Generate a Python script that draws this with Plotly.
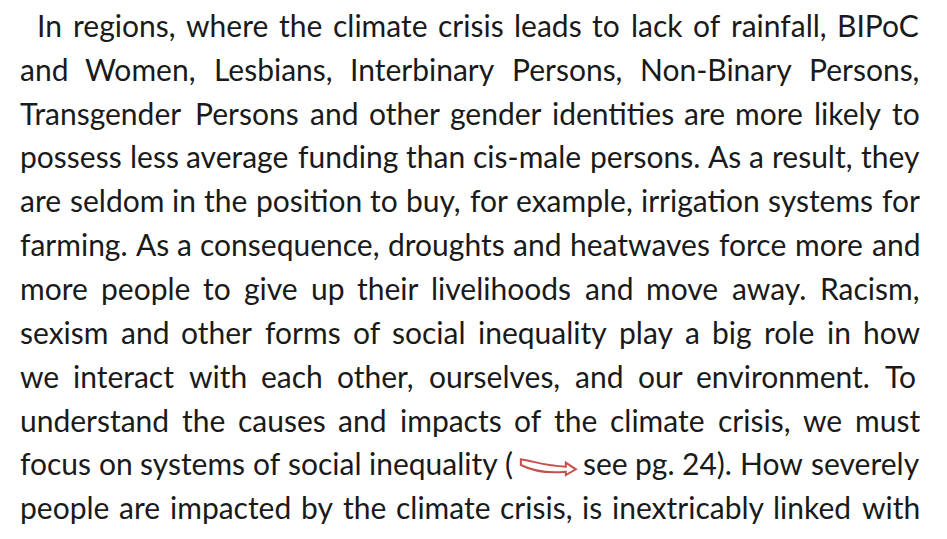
import os
import struct
import plotly.graph_objects as go

# ---------------- content ----------------
ARROW = "[->]"  # placeholder token for the red cross-reference arrow
LINES = [
    "In regions, where the climate crisis leads to lack of rainfall, BIPoC",
    "and Women, Lesbians, Interbinary Persons, Non-Binary Persons,",
    "Transgender Persons and other gender identities are more likely to",
    "possess less average funding than cis-male persons. As a result, they",
    "are seldom in the position to buy, for example, irrigation systems for",
    "farming. As a consequence, droughts and heatwaves force more and",
    "more people to give up their livelihoods and move away. Racism,",
    "sexism and other forms of social inequality play a big role in how",
    "we interact with each other, ourselves, and our environment. To",
    "understand the causes and impacts of the climate crisis, we must",
    "focus on systems of social inequality ( " + ARROW + " see pg. 24). How severely",
    "people are impacted by the climate crisis, is inextricably linked with",
]

# ---------------- style ----------------
W, H = 947, 539
LEFT = 12
FIRST_INDENT = 29
RIGHT = 912
BASELINE0 = 28.5
LINE_STEP = 43.85
FONT_TARGET = 30
TEXT_COLOR = "#1a1a1a"
ARROW_COLOR = "#c4524c"
ARROW_EM = 55.0 / 30.0

FONT_CHOICES = [
    ("Lato", ["lato-regular.ttf"]),
    ("Noto Sans", ["notosans-regular.ttf"]),
    ("Roboto", ["roboto-regular.ttf"]),
    ("Open Sans", ["opensans-regular.ttf"]),
    ("DejaVu Sans", ["dejavusans.ttf"]),
    ("Liberation Sans", ["liberationsans-regular.ttf"]),
]


def list_font_files():
    dirs = ["/usr/share/fonts", "/usr/local/share/fonts",
            os.path.expanduser("~/.fonts"), os.path.expanduser("~/.local/share/fonts")]
    out = {}
    for d in dirs:
        if not os.path.isdir(d):
            continue
        for root, _, files in os.walk(d):
            for f in files:
                out.setdefault(f.lower(), os.path.join(root, f))
    return out


def parse_ttf(path):
    d = open(path, "rb").read()
    off = 0
    if d[:4] == b"ttcf":
        off = struct.unpack(">I", d[12:16])[0]
    n = struct.unpack(">H", d[off + 4:off + 6])[0]
    tabs = {}
    for i in range(n):
        r = off + 12 + 16 * i
        tag = d[r:r + 4].decode("latin1")
        o, l = struct.unpack(">II", d[r + 8:r + 16])
        tabs[tag] = o
    upm = struct.unpack(">H", d[tabs["head"] + 18:tabs["head"] + 20])[0]
    hh = tabs["hhea"]
    asc, desc = struct.unpack(">hh", d[hh + 4:hh + 8])
    nhm = struct.unpack(">H", d[hh + 34:hh + 36])[0]
    if "OS/2" in tabs:
        o2 = tabs["OS/2"]
        fssel = struct.unpack(">H", d[o2 + 62:o2 + 64])[0]
        if fssel & (1 << 7):
            asc, desc = struct.unpack(">hh", d[o2 + 68:o2 + 72])
    hm = tabs["hmtx"]
    adv = [struct.unpack(">H", d[hm + 4 * i:hm + 4 * i + 2])[0] for i in range(nhm)]
    co = tabs["cmap"]
    nsub = struct.unpack(">H", d[co + 2:co + 4])[0]
    subs = {}
    for i in range(nsub):
        pid, eid, so = struct.unpack(">HHI", d[co + 4 + 8 * i:co + 12 + 8 * i])
        fmt = struct.unpack(">H", d[co + so:co + so + 2])[0]
        subs[(pid, eid, fmt)] = co + so
    cmap = {}
    s12 = subs.get((3, 10, 12)) or subs.get((0, 4, 12))
    s4 = subs.get((3, 1, 4)) or subs.get((0, 3, 4)) or subs.get((0, 1, 4))
    if s12:
        ng = struct.unpack(">I", d[s12 + 12:s12 + 16])[0]
        for g in range(ng):
            a, b, gid = struct.unpack(">III", d[s12 + 16 + 12 * g:s12 + 28 + 12 * g])
            if a > 0x2FFF:
                continue
            for c in range(a, min(b, 0x2FFF) + 1):
                cmap[c] = gid + (c - a)
    elif s4:
        segx2 = struct.unpack(">H", d[s4 + 6:s4 + 8])[0]
        seg = segx2 // 2
        ends_o = s4 + 14
        starts_o = ends_o + segx2 + 2
        delta_o = starts_o + segx2
        ro_o = delta_o + segx2
        for i in range(seg):
            e = struct.unpack(">H", d[ends_o + 2 * i:ends_o + 2 * i + 2])[0]
            s = struct.unpack(">H", d[starts_o + 2 * i:starts_o + 2 * i + 2])[0]
            dl = struct.unpack(">h", d[delta_o + 2 * i:delta_o + 2 * i + 2])[0]
            ro = struct.unpack(">H", d[ro_o + 2 * i:ro_o + 2 * i + 2])[0]
            for c in range(s, min(e, 0x2FFF) + 1):
                if c == 0xFFFF:
                    continue
                if ro == 0:
                    gid = (c + dl) & 0xFFFF
                else:
                    addr = ro_o + 2 * i + ro + 2 * (c - s)
                    gid = struct.unpack(">H", d[addr:addr + 2])[0]
                    if gid:
                        gid = (gid + dl) & 0xFFFF
                cmap[c] = gid
    return dict(upm=upm, asc=asc, desc=abs(desc), adv=adv, cmap=cmap)


FAMILY = "Lato"
METRICS = None
files = list_font_files()
for fam, names in FONT_CHOICES:
    hit = next((files[n] for n in names if n in files), None)
    if hit:
        try:
            METRICS = parse_ttf(hit)
            FAMILY = fam
            break
        except Exception:
            METRICS = None


def text_em(s):
    if METRICS is None:
        return 0.5 * len(s)
    adv, cm, upm = METRICS["adv"], METRICS["cmap"], METRICS["upm"]
    tot = 0
    for ch in s:
        g = cm.get(ord(ch), 0)
        tot += adv[min(g, len(adv) - 1)]
    return tot / upm


def token_em(t):
    return ARROW_EM if t == ARROW else text_em(t)


# choose a font size so every line fits with at least a small gap
MIN_GAP_EM = 0.16
fs = FONT_TARGET
for i, line in enumerate(LINES):
    toks = line.split(" ")
    left = FIRST_INDENT if i == 0 else LEFT
    need = sum(token_em(t) for t in toks) + MIN_GAP_EM * (len(toks) - 1)
    fs = min(fs, (RIGHT - left) / need)

if METRICS:
    box_mid = (METRICS["asc"] - METRICS["desc"]) / 2.0 / METRICS["upm"] * fs
else:
    box_mid = 0.38 * fs

fig = go.Figure()
annotations = []
shapes = []
for i, line in enumerate(LINES):
    toks = line.split(" ")
    left = FIRST_INDENT if i == 0 else LEFT
    widths = [token_em(t) * fs for t in toks]
    gap = (RIGHT - left - sum(widths)) / max(1, len(toks) - 1)
    base = BASELINE0 + i * LINE_STEP
    x = left
    for t, w in zip(toks, widths):
        if t == ARROW:
            k = fs / 30.0
            def P(dx, dy):
                return f"{x + dx * k:.2f},{base + dy * k:.2f}"
            path = (f"M {P(0, -15.7)} C {P(12, -14)} {P(25, -9)} {P(45, -8.3)} "
                    f"L {P(45, -12.3)} L {P(55, -5.7)} L {P(45, 0)} L {P(45, -3.3)} "
                    f"C {P(28, -1.5)} {P(12, -4)} {P(0, -10)} Z")
            shapes.append(dict(type="path", path=path, xref="x", yref="y",
                               line=dict(color=ARROW_COLOR, width=2),
                               fillcolor="rgba(0,0,0,0)"))
        else:
            annotations.append(dict(
                x=x, y=base - box_mid, xref="x", yref="y", text=t,
                showarrow=False, xanchor="left", yanchor="middle",
                borderpad=0, borderwidth=0,
                font=dict(family=FAMILY, size=fs, color=TEXT_COLOR)))
        x += w + gap

fig.update_layout(
    width=W, height=H,
    margin=dict(l=0, r=0, t=0, b=0),
    paper_bgcolor="white", plot_bgcolor="white",
    xaxis=dict(range=[0, W], visible=False, fixedrange=True),
    yaxis=dict(range=[H, 0], visible=False, fixedrange=True),
    annotations=annotations, shapes=shapes,
    showlegend=False,
)
fig.write_html("out.html", config=dict(displayModeBar=False, staticPlot=True))
